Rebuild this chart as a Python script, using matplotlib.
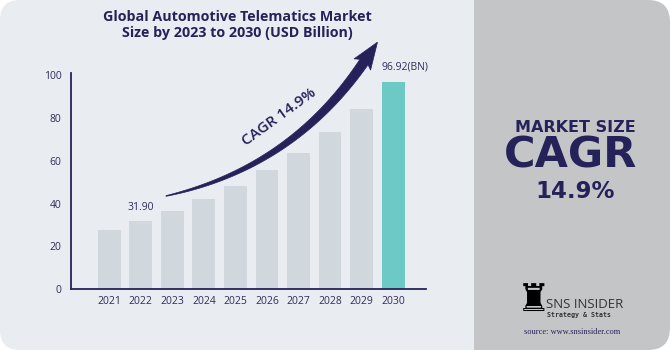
import numpy as np
import matplotlib
matplotlib.use("Agg")
import matplotlib.pyplot as plt
from matplotlib.patches import FancyBboxPatch, Polygon, Rectangle

# ---- data ----
years = ["2021", "2022", "2023", "2024", "2025", "2026", "2027", "2028", "2029", "2030"]
values = [27.7, 31.9, 36.6, 42.2, 48.4, 55.6, 63.8, 73.4, 84.4, 96.92]
yticks = [0, 20, 40, 60, 80, 100]
labels = {1: "31.90", 9: "96.92(BN)"}
title = "Global Automotive Telematics Market\nSize by 2023 to 2030 (USD Billion)"
cagr_text = "CAGR 14.9%"

NAVY = "#25225a"
BAR = "#d0d7dd"
TEAL = "#6dc9c3"
BG = "#e9ecf1"
PANEL = "#c4c5c7"

W, H = 670, 350
fig = plt.figure(figsize=(W / 100, H / 100), dpi=100)
fig.patch.set_facecolor("white")

# background axes in pixel coordinates
bg = fig.add_axes([0, 0, 1, 1], zorder=0)
bg.set_xlim(0, W)
bg.set_ylim(H, 0)
bg.axis("off")
bg.add_patch(FancyBboxPatch((0, 0), 520, H, boxstyle="round,pad=0,rounding_size=20",
                            fc=BG, ec="none"))
bg.add_patch(FancyBboxPatch((474, 0), W - 474, H, boxstyle="round,pad=0,rounding_size=22",
                            fc=PANEL, ec="none"))
bg.add_patch(Rectangle((474, 0), 40, H, fc=PANEL, ec="none"))

# chart axes
left, right, bottom, top = 71.3, 426, 289, 73.3
ax = fig.add_axes([left / W, 1 - bottom / H, (right - left) / W, (bottom - top) / H], zorder=1)
ax.patch.set_alpha(0)
x = np.arange(len(years))
colors = [BAR] * (len(years) - 1) + [TEAL]
ax.bar(x, values, width=0.72, color=colors, zorder=2)
ax.set_xlim(-1.2, 10.04)
ax.set_ylim(0, 101)
ax.set_xticks(x)
ax.set_xticklabels(years)
ax.set_yticks(yticks)
for s in ["top", "right"]:
    ax.spines[s].set_visible(False)
for s in ["left", "bottom"]:
    ax.spines[s].set_color(NAVY)
    ax.spines[s].set_linewidth(1.3)
ax.tick_params(axis="both", length=0, labelsize=7.5, labelcolor="#2f2d5c")
ax.tick_params(axis="y", pad=7)
ax.tick_params(axis="x", pad=5)
for lab in ax.get_xticklabels() + ax.get_yticklabels():
    lab.set_family("Open Sans")

for i, t in labels.items():
    if i == len(years) - 1:
        ax.text(x[i] - 0.36, values[i] + 4.5, t, ha="left", va="bottom",
                fontsize=7.5, color="#2f2d5c", family="Open Sans")
    else:
        ax.text(x[i], values[i] + 3.5, t, ha="center", va="bottom",
                fontsize=7.5, color="#2f2d5c", family="Open Sans")

# overlay for annotations in pixels
ov = fig.add_axes([0, 0, 1, 1], zorder=3)
ov.set_xlim(0, W)
ov.set_ylim(H, 0)
ov.axis("off")

ov.text(237, 25, title, ha="center", va="center", fontsize=10.3, fontweight="bold",
        color=NAVY, family="Open Sans", linespacing=1.25)

# curved tapered arrow
P0 = np.array([166, 196.0]); P1 = np.array([292, 168.0]); P2 = np.array([364, 62.0])
t = np.linspace(0, 1, 60)
pts = ((1 - t) ** 2)[:, None] * P0 + (2 * (1 - t) * t)[:, None] * P1 + (t ** 2)[:, None] * P2
d = (2 * (1 - t))[:, None] * (P1 - P0) + (2 * t)[:, None] * (P2 - P1)
d = d / np.linalg.norm(d, axis=1)[:, None]
n = np.stack([-d[:, 1], d[:, 0]], axis=1)
w = 0.3 + 4.6 * t ** 0.8
upper = pts + n * w[:, None]
lower = pts - n * w[:, None]
dir_end = d[-1]; n_end = n[-1]
tip = P2 + dir_end * 24
head = [P2 + n_end * 10 - dir_end * 3, tip, P2 - n_end * 10 - dir_end * 3]
poly = np.vstack([upper, head, lower[::-1]])
ov.add_patch(Polygon(poly, closed=True, fc=NAVY, ec=NAVY, lw=0.5))

ov.text(279, 117, cagr_text, ha="center", va="center", rotation=36, fontsize=11,
        fontweight="semibold", color=NAVY, family="Open Sans")

# right panel texts
ov.text(575, 128, "MARKET SIZE", ha="center", va="center", fontsize=11.5,
        fontweight="heavy", color=NAVY, family="DejaVu Sans")
ov.text(571, 156, "CAGR", ha="center", va="center", fontsize=31,
        fontweight="heavy", color=NAVY, family="DejaVu Sans")
ov.text(575, 191, "14.9%", ha="center", va="center", fontsize=16.5,
        fontweight="heavy", color=NAVY, family="DejaVu Sans")

# logo
ov.text(534, 301, "\u265c", ha="center", va="center", fontsize=27, color="black",
        family="DejaVu Sans")
ov.text(546, 304, "SNS INSIDER", ha="left", va="center", fontsize=9.5,
        color="#333333", family="Open Sans")
ov.text(547, 315, "Strategy & Stats", ha="left", va="center", fontsize=4.8,
        color="#333333", family="DejaVu Sans Mono", fontweight="bold")
ov.text(572, 332, "source: www.snsinsider.com", ha="center", va="center", fontsize=6,
        color=NAVY, family="Liberation Serif")

fig.savefig("out.png", dpi=100)
